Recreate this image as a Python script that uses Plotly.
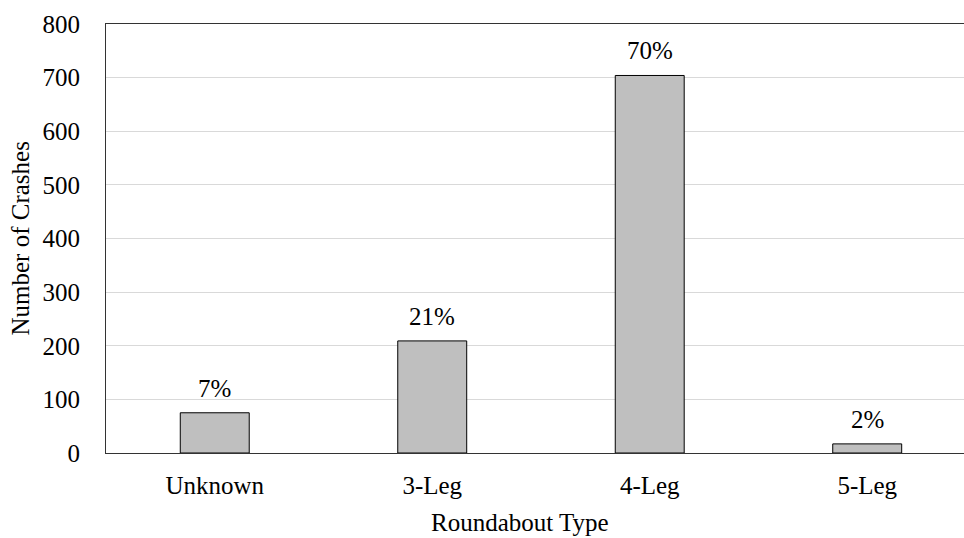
import plotly.graph_objects as go

# Crash counts by roundabout type
categories = ["Unknown", "3-Leg", "4-Leg", "5-Leg"]
crashes = [75, 209, 704, 17]
y_ticks = [0, 100, 200, 300, 400, 500, 600, 700, 800]

total = sum(crashes)
pct_labels = [f"{round(v / total * 100)}%" for v in crashes]

FONT = "Liberation Serif"
SIZE = 25

fig = go.Figure()
fig.add_trace(go.Bar(
    x=list(range(len(categories))),
    y=crashes,
    width=0.317,
    marker=dict(color="#bfbfbf", line=dict(color="#000000", width=1)),
    hoverinfo="skip",
))

# Percentage share above each bar
for i, (v, lab) in enumerate(zip(crashes, pct_labels)):
    fig.add_annotation(
        x=i, y=v, xref="x", yref="y", text=lab, showarrow=False,
        yanchor="bottom", yshift=9,
        font=dict(family=FONT, size=SIZE, color="#000000"),
    )

# Axis titles
fig.add_annotation(
    x=0.4825, y=0, xref="paper", yref="paper", yshift=-54,
    text="Roundabout Type", showarrow=False, yanchor="top", xanchor="center",
    font=dict(family=FONT, size=SIZE, color="#000000"),
)
fig.add_annotation(
    x=-0.1002, y=0.5, xref="paper", yref="paper",
    text="Number of Crashes", showarrow=False, textangle=-90,
    xanchor="center", yanchor="middle",
    font=dict(family=FONT, size=SIZE, color="#000000"),
)

fig.update_layout(
    width=964, height=538,
    margin=dict(l=106, r=0, t=24, b=85),
    paper_bgcolor="white", plot_bgcolor="white",
    showlegend=False,
    font=dict(family=FONT, size=SIZE, color="#000000"),
    xaxis=dict(
        range=[-0.5, 3.445],
        tickmode="array",
        tickvals=list(range(len(categories))),
        ticktext=categories,
        tickfont=dict(family=FONT, size=SIZE, color="#000000"),
        showline=True, linecolor="#333333", linewidth=1, mirror=True,
        showgrid=False, zeroline=False, ticks="",
        ticklabelstandoff=10,
        fixedrange=True,
    ),
    yaxis=dict(
        range=[0, 800],
        tickmode="array",
        tickvals=y_ticks,
        tickfont=dict(family=FONT, size=SIZE, color="#000000"),
        showline=True, linecolor="#333333", linewidth=1,
        showgrid=True, gridcolor="#d9d9d9", gridwidth=1,
        zeroline=False, ticks="",
        ticklabelstandoff=20,
        fixedrange=True,
    ),
)

fig.write_html("out.html")
